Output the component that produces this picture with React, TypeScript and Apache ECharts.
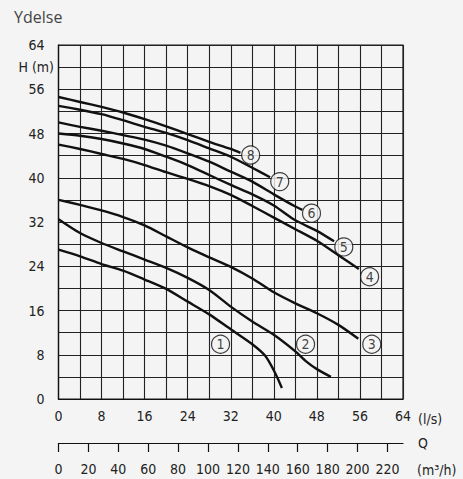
import React, { useEffect, useRef } from "react";
import * as echarts from "echarts";

// Flow axis (l/s) tick labels, head axis tick labels, m3/h tick labels
const qLabelsLs = [0, 8, 16, 24, 32, 40, 48, 56, 64];
const hLabels = [0, 8, 16, 24, 32, 40, 48, 56, 64];
const qLabelsM3h = [0, 20, 40, 60, 80, 100, 120, 140, 160, 180, 200, 220];

// Pump curves: [Q (l/s), H (m)]
const curve1 = [[0, 27.0], [4, 25.8], [8, 24.4], [12, 23.2], [16, 21.6], [20, 19.9], [24, 17.6], [28, 15.3], [32, 12.6], [36, 9.9], [38.4, 7.8], [40.2, 4.8], [41.5, 2.0]];
const curve2 = [[0, 32.5], [4, 30.0], [8, 28.2], [12, 26.7], [16, 25.2], [20, 23.7], [24, 21.9], [28, 19.7], [32, 16.7], [36, 14.0], [40, 11.6], [44, 8.6], [46, 6.8], [48, 5.4], [50.6, 4.0]];
const curve3 = [[0, 36.0], [4, 35.1], [8, 34.1], [12, 32.9], [16, 31.4], [20, 29.4], [24, 27.4], [28, 25.6], [32, 23.9], [36, 21.8], [40, 19.3], [44, 17.3], [48, 15.5], [52, 13.4], [55.7, 10.9]];
const curve4 = [[0, 46.0], [4, 45.2], [8, 44.3], [12, 43.4], [16, 42.3], [20, 41.0], [24, 39.8], [28, 38.5], [32, 36.9], [36, 34.9], [40, 32.8], [44, 30.7], [48, 28.6], [52, 26.0], [55.8, 23.5]];
const curve5 = [[0, 48.0], [4, 47.6], [8, 47.0], [12, 46.2], [16, 45.2], [20, 43.8], [24, 42.3], [28, 40.5], [32, 38.7], [36, 37.0], [40, 35.0], [44, 32.3], [48, 30.4], [51.2, 28.5]];
const curve6 = [[0, 50.0], [4, 49.2], [8, 48.5], [12, 47.7], [16, 46.9], [20, 45.8], [24, 44.4], [28, 42.9], [32, 41.1], [36, 39.3], [40, 37.0], [44, 34.8], [45.3, 34.2]];
const curve7 = [[0, 53.0], [4, 52.3], [8, 51.5], [12, 50.4], [16, 49.2], [20, 48.1], [24, 46.8], [28, 45.3], [32, 43.8], [36, 41.8], [39.3, 40.1]];
const curve8 = [[0, 54.6], [4, 53.7], [8, 52.8], [12, 51.8], [16, 50.6], [20, 49.3], [24, 47.9], [28, 46.5], [32, 45.2], [33.8, 44.5]];
const curves = [curve1, curve2, curve3, curve4, curve5, curve6, curve7, curve8];

// Curve number markers
const markerNames = ["1", "2", "3", "4", "5", "6", "7", "8"];
const markerQ = [30.1, 45.9, 58.2, 57.8, 53.0, 47.0, 41.1, 35.7];
const markerH = [9.9, 9.9, 9.9, 22.1, 27.5, 33.6, 39.3, 44.1];

const LS_TO_M3H = 3.6;
const BG = "#f4f4f4";
const AXIS_FONT = "'DejaVu Sans Condensed', 'DejaVu Sans', sans-serif";

export default function App() {
  const ref = useRef<HTMLDivElement>(null);
  useEffect(() => {
    if (!ref.current) return;
    const chart = echarts.init(ref.current, null, { renderer: "svg" });
    const textStyle = { fontFamily: AXIS_FONT, fontSize: 14, color: "#222" };
    chart.setOption({
      animation: false,
      backgroundColor: BG,
      grid: { left: 58.5, right: 60, top: 45, bottom: 80, show: true, borderColor: "#1a1a1a", borderWidth: 1.2 },
      xAxis: [
        {
          type: "value",
          min: 0,
          max: 64,
          interval: 4,
          position: "bottom",
          axisLine: { show: true, lineStyle: { color: "#111", width: 1.2 } },
          axisTick: { show: false },
          splitLine: { show: true, lineStyle: { color: "#222", width: 1.1 } },
          axisLabel: { ...textStyle, margin: 10, customValues: qLabelsLs, formatter: (v: number) => String(v) },
        },
        {
          type: "value",
          min: 0,
          max: 64 * LS_TO_M3H,
          position: "bottom",
          offset: 44,
          axisLine: { show: true, onZero: false, lineStyle: { color: "#111", width: 1.2 } },
          axisTick: { show: true, length: 9, lineStyle: { color: "#111", width: 1.2 }, customValues: qLabelsM3h },
          splitLine: { show: false },
          axisLabel: { ...textStyle, margin: 19, customValues: qLabelsM3h, formatter: (v: number) => String(v) },
        },
      ],
      yAxis: {
        type: "value",
        min: 0,
        max: 64,
        interval: 4,
        axisLine: { show: true, lineStyle: { color: "#111", width: 1.2 } },
        axisTick: { show: false },
        splitLine: { show: true, lineStyle: { color: "#222", width: 1.1 } },
        axisLabel: { ...textStyle, margin: 14, customValues: hLabels, formatter: (v: number) => String(v) },
      },
      series: [
        ...curves.map((c) => ({
          type: "line",
          xAxisIndex: 0,
          data: c,
          smooth: 0.25,
          symbol: "none",
          lineStyle: { color: "#111", width: 2.4 },
          z: 3,
        })),
        {
          type: "scatter",
          xAxisIndex: 0,
          data: markerQ.map((q, i) => ({ value: [q, markerH[i]], name: markerNames[i] })),
          symbol: "circle",
          symbolSize: 18,
          itemStyle: { color: BG, borderColor: "#111", borderWidth: 1.2 },
          label: {
            show: true,
            position: "inside",
            formatter: (p: any) => p.name,
            fontFamily: AXIS_FONT,
            fontSize: 14,
            color: "#111",
          },
          z: 5,
        },
      ],
      graphic: [
        { type: "text", left: 14, top: 9, style: { text: "Ydelse", fontFamily: "'Open Sans', sans-serif", fontSize: 16, fill: "#444" } },
        { type: "text", x: 54, y: 67, style: { text: "H (m)", fontFamily: AXIS_FONT, fontSize: 14, fill: "#222", align: "right", verticalAlign: "middle" } },
        { type: "text", x: 418, y: 419, style: { text: "(l/s)", fontFamily: AXIS_FONT, fontSize: 14, fill: "#222", align: "left", verticalAlign: "middle" } },
        { type: "text", x: 418, y: 443, style: { text: "Q", fontFamily: AXIS_FONT, fontSize: 14, fill: "#222", align: "left", verticalAlign: "middle" } },
        { type: "text", x: 417, y: 470, style: { text: "(m³/h)", fontFamily: AXIS_FONT, fontSize: 14, fill: "#222", align: "left", verticalAlign: "middle" } },
      ],
    });
    return () => chart.dispose();
  }, []);
  return <div ref={ref} style={{ position: "fixed", left: 0, top: 0, width: 463, height: 479 }} />;
}
